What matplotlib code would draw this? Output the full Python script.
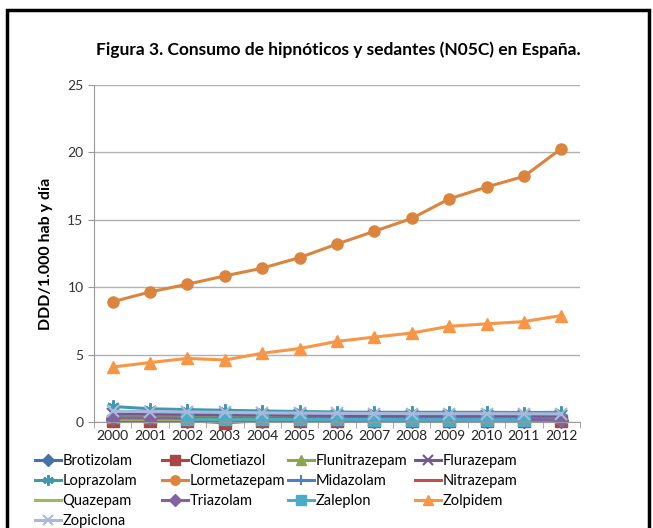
import numpy as np
import matplotlib.pyplot as plt
from matplotlib.patches import Rectangle

plt.rcParams['font.family'] = ['Lato', 'DejaVu Sans']

years = ['2000', '2001', '2002', '2003', '2004', '2005', '2006',
         '2007', '2008', '2009', '2010', '2011', '2012']
nan = np.nan

brotizolam = [0.12, 0.12, 0.11, 0.11, 0.1, 0.1, 0.1, 0.1, 0.1, 0.1, 0.1, 0.1, 0.1]
clometiazol = [0.1, 0.1, 0.1, -0.05, 0.1, 0.1, 0.1, 0.1, 0.1, 0.1, 0.1, 0.1, 0.08]
flunitrazepam = [0.4, 0.38, 0.37, 0.36, 0.36, 0.35, 0.35, 0.35, 0.35, 0.35, 0.35, 0.35, 0.35]
flurazepam = [0.6, 0.58, 0.56, 0.54, 0.52, 0.5, 0.48, 0.47, 0.46, 0.45, 0.45, 0.44, 0.43]
loprazolam = [1.15, 0.98, 0.92, 0.87, 0.82, 0.78, 0.74, 0.72, 0.72, 0.72, 0.72, 0.7, 0.72]
lormetazepam = [8.92, 9.65, 10.22, 10.84, 11.41, 12.2, 13.2, 14.15, 15.1, 16.55, 17.43, 18.22, 20.28]
midazolam = [0.3, 0.3, 0.3, 0.3, 0.3, 0.3, 0.3, 0.3, 0.3, 0.3, 0.3, 0.3, 0.3]
nitrazepam = [0.05, 0.05, 0.05, 0.05, 0.05, 0.05, 0.05, 0.05, 0.05, 0.05, 0.05, 0.05, 0.05]
quazepam = [0.2, 0.2, 0.19, 0.18, 0.18, 0.17, 0.17, 0.16, 0.16, 0.16, 0.15, 0.15, 0.15]
triazolam = [0.3, 0.3, 0.28, 0.27, 0.26, 0.25, 0.24, 0.23, 0.22, 0.21, 0.2, 0.2, 0.15]
zaleplon = [nan, nan, 0.2, 0.2, 0.2, 0.19, 0.19, 0.18, 0.17, 0.17, 0.17, 0.17, nan]
zolpidem = [4.08, 4.41, 4.72, 4.6, 5.1, 5.45, 5.98, 6.3, 6.6, 7.1, 7.28, 7.45, 7.9]
zopiclona = [0.8, 0.77, 0.74, 0.71, 0.68, 0.66, 0.64, 0.63, 0.62, 0.62, 0.62, 0.61, 0.6]

series = [
    ('Brotizolam', brotizolam, '#4572A7', 'D'),
    ('Clometiazol', clometiazol, '#AA4643', 's'),
    ('Flunitrazepam', flunitrazepam, '#89A54E', '^'),
    ('Flurazepam', flurazepam, '#71588F', 'x'),
    ('Loprazolam', loprazolam, '#4198AF', (6, 2, 0)),
    ('Lormetazepam', lormetazepam, '#DB843D', 'o'),
    ('Midazolam', midazolam, '#4F81BD', '+'),
    ('Nitrazepam', nitrazepam, '#C0504D', None),
    ('Quazepam', quazepam, '#9BBB59', None),
    ('Triazolam', triazolam, '#8064A2', 'D'),
    ('Zaleplon', zaleplon, '#4BACC6', 's'),
    ('Zolpidem', zolpidem, '#F79646', '^'),
    ('Zopiclona', zopiclona, '#A9B8DC', 'x'),
]

fig = plt.figure(figsize=(6.53, 5.28), dpi=100)
ax = fig.add_axes([94/653, 1-422/528, (580-94)/653, (422-85)/528])

x = np.arange(len(years))
handles = []
for name, vals, col, mk in series:
    thin = mk in ('x', '+', (6, 2, 0))
    ms = 9 if thin else 8
    if mk == 'D':
        ms = 7
    h, = ax.plot(x, vals, color=col, lw=2.2, marker=mk, ms=ms, mec=col, mfc=col,
                 mew=1.5 if thin else 1, label=name, clip_on=False)
    handles.append(h)

ax.set_xlim(-0.5, 12.5)
ax.set_ylim(0, 25)
ax.set_yticks([0, 5, 10, 15, 20, 25])
ax.set_xticks(x)
ax.set_xticklabels(years)
ax.set_xticks(np.arange(-0.5, 13, 1), minor=True)
ax.tick_params(axis='x', which='major', length=0, labelsize=10, colors='#222222', pad=6)
ax.tick_params(axis='x', which='minor', length=4, color='#999999')
ax.tick_params(axis='y', length=4, color='#999999', labelsize=10, labelcolor='#333333')
ax.grid(axis='y', color='#b0b0b0', lw=1)
ax.set_axisbelow(True)
for s in ['top', 'right']:
    ax.spines[s].set_visible(False)
ax.spines['left'].set_color('#999999')
ax.spines['bottom'].set_color('#999999')

ax.set_ylabel('DDD/1.000 hab y día', fontsize=11.5, fontweight='bold', labelpad=10)

fig.text(338/653, 1-50/528, 'Figura 3. Consumo de hipnóticos y sedantes (N05C) en España.',
         ha='center', va='center', fontsize=12.5, fontweight='bold')

# legend: row-major, four equal-width columns
col_x = [35, 162, 288, 415]
for c in range(4):
    idx = list(range(c, len(series), 4))
    fig.legend([handles[i] for i in idx], [series[i][0] for i in idx],
               loc='upper left', bbox_to_anchor=(col_x[c]/653, 1-454/528),
               frameon=False, fontsize=10.5, handlelength=1.75, handletextpad=0.15,
               labelspacing=0.42, borderaxespad=0, borderpad=0, markerscale=0.85)

fig.patches.append(Rectangle((7/653, -0.1), (649-7)/653, 1.1-10/528, transform=fig.transFigure,
                             fill=False, ec='black', lw=2.5, clip_on=False))

fig.savefig('out.png', dpi=100)
